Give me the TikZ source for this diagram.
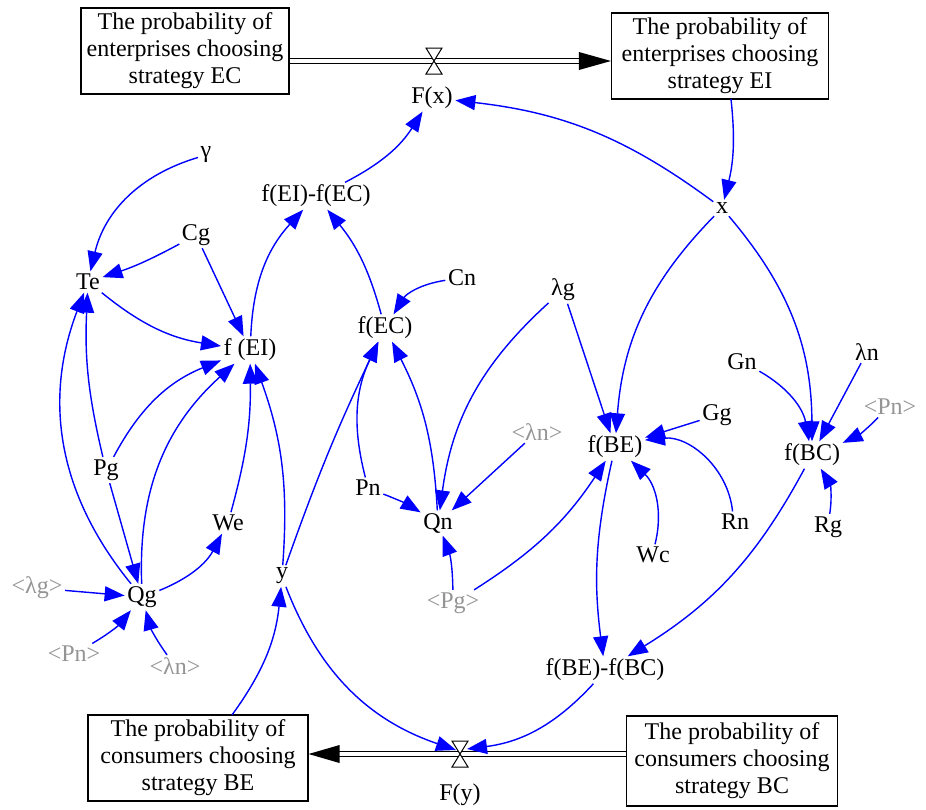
\documentclass[tikz,border=0pt]{standalone}
\usepackage{fontspec}
\setmainfont{Liberation Serif}
\usetikzlibrary{arrows.meta}
\begin{document}
\begin{tikzpicture}[x=1pt,y=-1pt,
  lbl/.style={inner sep=2.5pt, font=\fontsize{24}{27}\selectfont},
  shadowvar/.style={lbl, text=black!42},
  stock/.style={draw, line width=1.1pt, align=center, inner sep=0pt, font=\fontsize{24}{27}\selectfont},
  lnk/.style={blue, line width=1.4pt, -{Triangle[length=20pt,width=15pt]}},
  pipe/.style={double distance=4pt, line width=1.1pt, double=white},
  valveshape/.style={draw, line width=1pt, fill=white},
  ]
\useasboundingbox (0,0) rectangle (926,809);
% stocks
\node[stock, minimum width=208pt, minimum height=86pt] (EC) at (185,51) {The probability of\\enterprises choosing\\strategy EC};
\node[stock, minimum width=217pt, minimum height=86pt] (EI) at (720,56) {The probability of\\enterprises choosing\\strategy EI};
\node[stock, minimum width=220pt, minimum height=86pt] (BE) at (198,758) {The probability of\\consumers choosing\\strategy BE};
\node[stock, minimum width=211pt, minimum height=90pt] (BC) at (732,761) {The probability of\\consumers choosing\\strategy BC};
% valves
\coordinate (v1) at (434,61);
\coordinate (v2) at (460,754);
\coordinate (v2l) at (456,750);
\coordinate (v2r) at (467,749);
\coordinate (a1) at (579,61);
\coordinate (a2) at (339,754);
% pipes
\draw[pipe] (EC.east |- v1) -- (a1);
\fill (EI.west |- v1) -- ++(-32,-9) -- ++(0,18) -- cycle;
\draw[pipe] (BC.west |- v2) -- (a2);
\fill (BE.east |- v2) -- ++(31,-9) -- ++(0,18) -- cycle;
\draw[valveshape] (v1) -- ++(-8,-13) -- ++(16,0) -- cycle;
\draw[valveshape] (v1) -- ++(-8,13) -- ++(16,0) -- cycle;
\draw[valveshape] (v2) -- ++(-8,-13) -- ++(16,0) -- cycle;
\draw[valveshape] (v2) -- ++(-8,13) -- ++(16,0) -- cycle;
% variables
\node[lbl] (Fx) at (432,98) {F(x)};
\node[lbl] (Fy) at (460,795) {F(y)};
\node[lbl] (gam) at (206,155) {γ};
\node[lbl] (Cg) at (196,235) {Cg};
\node[lbl] (Te) at (88,282) {Te};
\node[lbl] (dEIEC) at (316,196) {f(EI)-f(EC)};
\node[lbl] (fEI) at (250,350) {f (EI)};
\node[lbl] (fEC) at (385,328) {f(EC)};
\node[lbl] (Cn) at (462,278) {Cn};
\node[lbl] (lg) at (563,290) {λg};
\node[lbl] (x) at (722,208) {x};
\node[lbl] (Pg) at (106,470) {Pg};
\node[lbl] (We) at (228,523) {We};
\node[lbl] (Qg) at (142,597) {Qg};
\node[lbl] (y) at (282,576) {y};
\node[shadowvar] (lg3) at (37,588) {<λg>};
\node[shadowvar] (Pn1) at (74,654) {<Pn>};
\node[shadowvar] (ln1) at (175,666) {<λn>};
\node[lbl] (Pn) at (368,488) {Pn};
\node[lbl] (Qn) at (438,523) {Qn};
\node[shadowvar] (Pg2) at (453,603) {<Pg>};
\node[shadowvar] (ln2) at (537,432) {<λn>};
\node[lbl] (fBE) at (615,447) {f(BE)};
\node[lbl] (Wc) at (653,555) {Wc};
\node[lbl] (dBEBC) at (605,670) {f(BE)-f(BC)};
\node[lbl] (Gg) at (717,415) {Gg};
\node[lbl] (Rn) at (735,522) {Rn};
\node[lbl] (Gn) at (742,362) {Gn};
\node[lbl] (ln) at (867,352) {λn};
\node[shadowvar] (Pn3) at (890,407) {<Pn>};
\node[lbl] (fBC) at (812,455) {f(BC)};
\node[lbl] (Rg) at (828,527) {Rg};
\coordinate (eiout) at (731,99);
\coordinate (beout) at (232,715);
% links
\draw[lnk] (eiout) to[bend left=10] (x);
\draw[lnk] (x) to[bend right=15] (Fx);
\draw[lnk] (x) to[bend right=20] (fBE);
\draw[lnk] (x) to[bend left=20] (fBC);
\draw[lnk] (lg) -- (fBE);
\draw[lnk] (lg) to[bend right=20] (Qn);
\draw[lnk] (ln2) -- (Qn);
\draw[lnk] (Pn) to[bend left=5] (Qn);
\draw[lnk] (Pg2) to[bend right=10] (Qn);
\draw[lnk] (Pg2) to[bend right=12] (fBE);
\draw[lnk] (Gg) -- (fBE);
\draw[lnk] (Rn) to[bend right=45] (fBE);
\draw[lnk] (Wc) to[bend right=30] (fBE);
\draw[lnk] (fBE) to[bend right=10] (dBEBC);
\draw[lnk] (fBC) to[bend left=15] (dBEBC);
\draw[lnk] (Gn) to[bend left=25] (fBC);
\draw[lnk] (ln) -- (fBC);
\draw[lnk] (Pn3) to[bend left=10] (fBC);
\draw[lnk] (Rg) to[bend right=20] (fBC);
\draw[lnk] (dBEBC) to[bend left=20] (v2r);
\draw[lnk] (y) to[bend right=25] (v2l);
\draw[lnk] (beout) to[bend right=15] (y);
\draw[lnk] (y) to[bend right=12] (fEI);
\draw[lnk] (y) to[bend left=3] (fEC);
\draw[lnk] (We) to[bend right=8] (fEI);
\draw[lnk] (Qg) to[bend right=20] (We);
\draw[lnk] (Qg) to[bend left=25] (fEI);
\draw[lnk] (Qg) to[bend left=30] (Te);
\draw[lnk] (Pg) to[bend left=8] (Te);
\draw[lnk] (Pg) to[bend left=20] (fEI);
\draw[lnk] (Pg) -- (Qg);
\draw[lnk] (lg3) -- (Qg);
\draw[lnk] (Pn1) to[bend right=10] (Qg);
\draw[lnk] (ln1) to[bend left=10] (Qg);
\draw[lnk] (Te) to[bend right=15] (fEI);
\draw[lnk] (Cg) to[bend left=5] (Te);
\draw[lnk] (Cg) -- (fEI);
\draw[lnk] (gam) to[bend right=30] (Te);
\draw[lnk] (fEI) to[bend left=20] (dEIEC);
\draw[lnk] (fEC) to[bend right=12] (dEIEC);
\draw[lnk] (dEIEC) to[bend right=15] (Fx);
\draw[lnk] (Cn) to[bend right=25] (fEC);
\draw[lnk] (Pn) to[bend left=20] (fEC);
\draw[lnk] (Qn) to[bend right=12] (fEC);
\end{tikzpicture}
\end{document}
